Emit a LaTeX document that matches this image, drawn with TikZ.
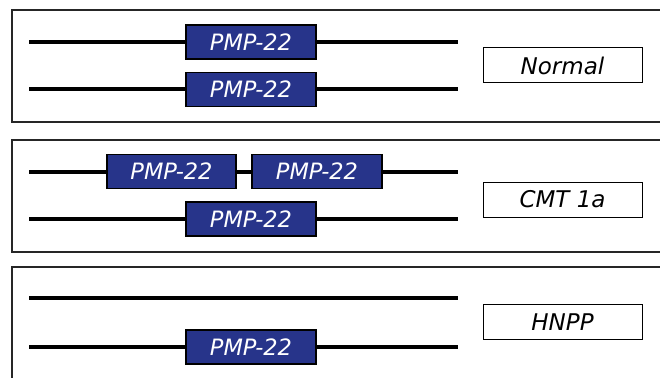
\documentclass[tikz,border=0pt]{standalone}
\usepackage{fontspec}
\setmainfont{DejaVu Sans}
\definecolor{genefill}{RGB}{39,52,138}
\begin{document}
\begin{tikzpicture}[x=1pt,y=-1pt,
  panel/.style={line width=1.5pt,draw=black!85},
  chrom/.style={line width=4pt,draw=black},
  gene/.style={draw=black,line width=1.2pt,fill=genefill,minimum width=130pt,minimum height=34pt,inner sep=0pt,text=white,font=\fontsize{22.5}{26}\selectfont\itshape},
  label/.style={draw=black,line width=1pt,fill=white,minimum width=159pt,minimum height=35pt,inner sep=0pt,font=\fontsize{23}{26}\selectfont\itshape}]
\useasboundingbox (0,0) rectangle (660,377);
% panel frames
\draw[panel] (662,10) -- (12,10) -- (12,122) -- (662,122);
\draw[panel] (662,140) -- (12,140) -- (12,252) -- (662,252);
\draw[panel] (662,267) -- (12,267) -- (12,380);
% panel 1
\coordinate (a1s) at (29,42); \coordinate (a1e) at (458,42);
\coordinate (a2s) at (29,89); \coordinate (a2e) at (458,89);
\draw[chrom] (a1s) -- (a1e);
\draw[chrom] (a2s) -- (a2e);
\node[gene] (ga1) at (251,42) {PMP-22};
\node[gene] (ga2) at (251,89.5) {PMP-22};
\node[label] (la) at (562.5,65.5) {Normal};
% panel 2
\coordinate (b1s) at (29,172); \coordinate (b1e) at (458,172);
\coordinate (b2s) at (29,219); \coordinate (b2e) at (458,219);
\draw[chrom] (b1s) -- (b1e);
\draw[chrom] (b2s) -- (b2e);
\node[gene,minimum width=129pt] (gb1) at (171.5,171.5) {PMP-22};
\node[gene] (gb2) at (317,171.5) {PMP-22};
\node[gene] (gb3) at (251,219) {PMP-22};
\node[label] (lb) at (562.5,199.5) {CMT 1a};
% panel 3
\coordinate (c1s) at (29,298); \coordinate (c1e) at (458,298);
\coordinate (c2s) at (29,347); \coordinate (c2e) at (458,347);
\draw[chrom] (c1s) -- (c1e);
\draw[chrom] (c2s) -- (c2e);
\node[gene] (gc1) at (251,347) {PMP-22};
\node[label] (lc) at (562.5,322) {HNPP};
\end{tikzpicture}
\end{document}
